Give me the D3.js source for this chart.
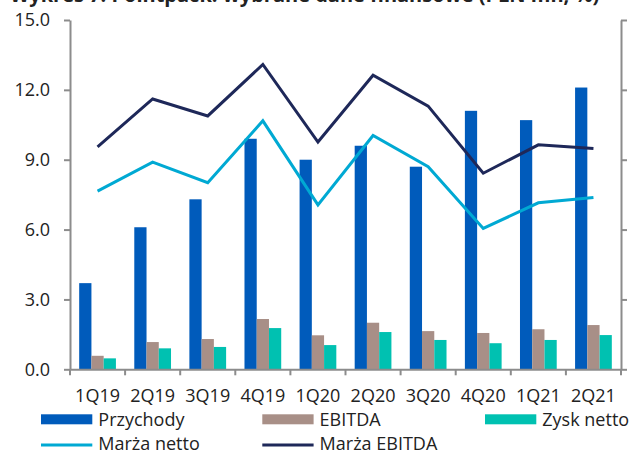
<!DOCTYPE html>
<html>
<head>
<meta charset="utf-8">
<script src="https://cdn.jsdelivr.net/npm/d3@7"></script>
<style>
  html, body { margin: 0; padding: 0; background: #fff; }
  svg { display: block; font-family: "Open Sans", sans-serif; }
</style>
</head>
<body>
<div id="chart"></div>
<script>
const quarters = ["1Q19", "2Q19", "3Q19", "4Q19", "1Q20", "2Q20", "3Q20", "4Q20", "1Q21", "2Q21"];
const przychody = [3.7, 6.1, 7.3, 9.9, 9.0, 9.6, 8.7, 11.1, 10.7, 12.1];
const ebitda = [0.58, 1.17, 1.3, 2.16, 1.46, 2.0, 1.64, 1.56, 1.72, 1.9];
const zyskNetto = [0.47, 0.9, 0.96, 1.77, 1.04, 1.6, 1.26, 1.12, 1.26, 1.47];
const marzaNetto = [7.65, 8.9, 8.01, 10.67, 7.06, 10.04, 8.7, 6.05, 7.15, 7.38];
const marzaEbitda = [9.55, 11.61, 10.88, 13.09, 9.76, 12.63, 11.3, 8.42, 9.64, 9.48];
const yTicks = [0, 3, 6, 9, 12, 15];

const width = 633;
const height = 452;

const barSeries = [
  { name: "Przychody", values: przychody, color: "#005bbb" },
  { name: "EBITDA", values: ebitda, color: "#a88f87" },
  { name: "Zysk netto", values: zyskNetto, color: "#00c1b1" },
];
const lineSeries = [
  { name: "Marża netto", values: marzaNetto, color: "#00a9d3" },
  { name: "Marża EBITDA", values: marzaEbitda, color: "#1e2859" },
];

const svg = d3
  .select("#chart")
  .append("svg")
  .attr("width", width)
  .attr("height", height);

const x = d3.scaleBand().domain(quarters).range([70, 621]);
const bw = x.bandwidth();
const x1 = d3
  .scaleBand()
  .domain(barSeries.map((s) => s.name))
  .range([bw / 6, (bw * 5) / 6]);
const y = d3.scaleLinear().domain([0, 15]).range([369.3, 20]);

// title (clipped at top in the original)
svg
  .append("text")
  .attr("x", 10)
  .attr("y", 2)
  .style("font-weight", "bold")
  .style("font-size", "20px")
  .style("fill", "#222")
  .text("Wykres 7: Pointpack: wybrane dane finansowe (PLN mn, %)");

// bars
barSeries.forEach((s) => {
  svg
    .append("g")
    .selectAll("rect")
    .data(s.values)
    .enter()
    .append("rect")
    .attr("x", (d, i) => x(quarters[i]) + x1(s.name))
    .attr("y", (d) => y(d))
    .attr("width", x1.bandwidth())
    .attr("height", (d) => y(0) - y(d))
    .style("fill", s.color);
});

// lines
const line = d3
  .line()
  .x((d, i) => x(quarters[i]) + bw / 2)
  .y((d) => y(d));

lineSeries.forEach((s) => {
  svg
    .append("path")
    .datum(s.values)
    .attr("d", line)
    .style("fill", "none")
    .style("stroke", s.color)
    .style("stroke-width", 3);
});

// axes
const axisColor = "#8c8c8c";

const yAxisLeft = svg
  .append("g")
  .attr("transform", "translate(70,0)")
  .call(
    d3
      .axisLeft(y)
      .tickValues(yTicks)
      .tickFormat(d3.format(".1f"))
      .tickSize(6)
      .tickSizeOuter(0)
      .tickPadding(14)
  );

const yAxisRight = svg
  .append("g")
  .attr("transform", "translate(621,0)")
  .call(
    d3
      .axisRight(y)
      .tickValues(yTicks)
      .tickFormat("")
      .tickSize(6)
      .tickSizeOuter(0)
  );

const xAxis = svg
  .append("g")
  .attr("transform", `translate(0,${y(0)})`)
  .call(d3.axisBottom(x).tickSize(0).tickSizeOuter(0).tickPadding(20));

// x ticks sit between the categories
xAxis
  .selectAll(".edge")
  .data(quarters.concat(["end"]))
  .enter()
  .append("line")
  .attr("class", "edge")
  .attr("x1", (d) => (d === "end" ? x.range()[1] : x(d)))
  .attr("x2", (d) => (d === "end" ? x.range()[1] : x(d)))
  .attr("y1", 0)
  .attr("y2", 6);

[yAxisLeft, yAxisRight, xAxis].forEach((g) => {
  g.selectAll("path, line").style("stroke", axisColor).style("stroke-width", 2);
  g.selectAll("text")
    .style("font-family", "Open Sans, sans-serif")
    .style("font-size", "18px")
    .style("fill", "#222");
});

// legend
const legendCols = [41, 262.3, 485];
const legend = svg.append("g").style("font-size", "18px").style("fill", "#222");

barSeries.forEach((s, i) => {
  legend
    .append("rect")
    .attr("x", legendCols[i])
    .attr("y", 414.3)
    .attr("width", 51.3)
    .attr("height", 10)
    .style("fill", s.color);
  legend
    .append("text")
    .attr("x", legendCols[i] + 57.3)
    .attr("y", 425.7)
    .text(s.name);
});

lineSeries.forEach((s, i) => {
  legend
    .append("line")
    .attr("x1", legendCols[i])
    .attr("x2", legendCols[i] + 51.3)
    .attr("y1", 445)
    .attr("y2", 445)
    .style("stroke", s.color)
    .style("stroke-width", 3);
  legend
    .append("text")
    .attr("x", legendCols[i] + 57.3)
    .attr("y", 450)
    .text(s.name);
});
</script>
</body>
</html>
